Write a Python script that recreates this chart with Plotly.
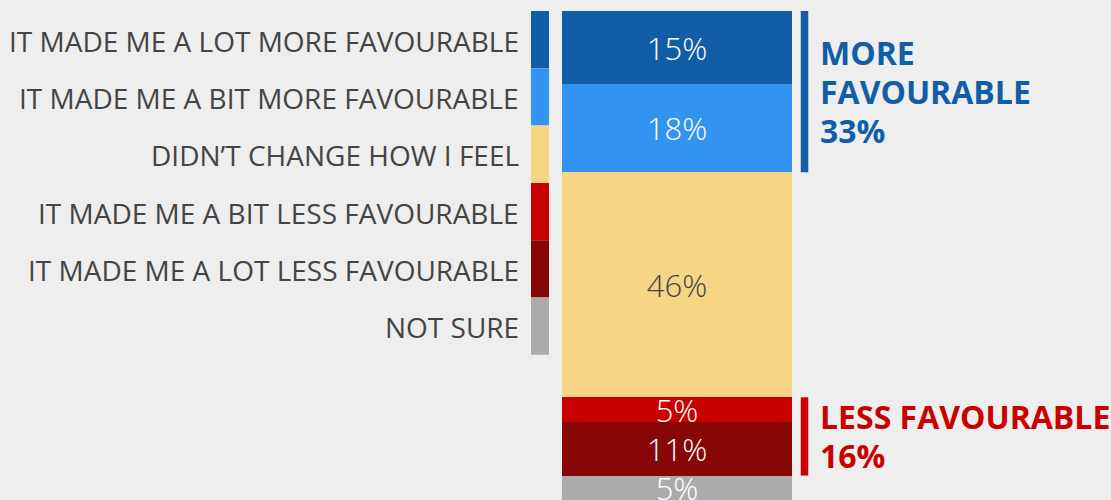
import plotly.graph_objects as go

W, H = 1111, 500
TOP = 11

labels = [
    "IT MADE ME A LOT MORE FAVOURABLE",
    "IT MADE ME A BIT MORE FAVOURABLE",
    "DIDN’T CHANGE HOW I FEEL",
    "IT MADE ME A BIT LESS FAVOURABLE",
    "IT MADE ME A LOT LESS FAVOURABLE",
    "NOT SURE",
]
values = [15, 18, 46, 5, 11, 5]
colors = ["#115DA8", "#3294F0", "#F6D684", "#C80000", "#870606", "#ABABAB"]
text_colors = ["white", "white", "#444444", "white", "white", "white"]

# (text lines, first index, last index, colour)
groups = [
    (["MORE", "FAVOURABLE", "33%"], 0, 1, "#115DA8"),
    (["LESS FAVOURABLE", "16%"], 3, 4, "#C80000"),
]

# pixel -> paper coords (plot area starts TOP px below the page top)
def px(x):
    return x / W

def py(y):
    return 1 - (y - TOP) / (H - TOP)

fig = go.Figure()

# stacked bar, one trace per answer
for lab, v, c, tc in zip(labels, values, colors, text_colors):
    fig.add_trace(go.Bar(
        x=[0], y=[v], name=lab, marker_color=c, marker_line_width=0,
        width=1, text=[f"{v}%"], textposition="inside",
        insidetextanchor="middle", constraintext="none",
        textfont=dict(family="Open Sans", size=31, color=tc, weight=300),
        hoverinfo="name+y", showlegend=False,
    ))

# custom legend: swatches on the right of right-aligned labels
sw_h = 57.3
shapes = []
annotations = []
for i, (lab, c) in enumerate(zip(labels, colors)):
    y0 = TOP + i * sw_h
    shapes.append(dict(type="rect", xref="paper", yref="paper",
                       x0=px(531), x1=px(549), y0=py(y0), y1=py(y0 + sw_h),
                       fillcolor=c, line_width=0))
    annotations.append(dict(text=lab, xref="paper", yref="paper",
                            x=px(521), y=py(y0 + sw_h / 2 + 1), xanchor="right",
                            yanchor="middle", showarrow=False,
                            font=dict(family="Open Sans", size=28, color="#444444")))

# brackets with group totals
cum = [sum(values[:i]) for i in range(len(values) + 1)]
line_gap = 39
for lines, a, b, c in groups:
    y0, y1 = cum[a], cum[b + 1]
    shapes.append(dict(type="line", xref="paper", yref="y",
                       x0=px(804.5), x1=px(804.5), y0=y0, y1=y1,
                       line=dict(color=c, width=7.5)))
    n = len(lines)
    for k, txt in enumerate(lines):
        annotations.append(dict(text=f"<b>{txt}</b>", xref="paper", yref="y",
                                x=px(818), y=(y0 + y1) / 2,
                                yshift=-(k - (n - 1) / 2) * line_gap,
                                xanchor="left", yanchor="middle", align="left",
                                showarrow=False,
                                font=dict(family="Open Sans", size=32, color=c)))

bar_px = 230
cx = 677
fig.update_layout(
    width=W, height=H, barmode="stack",
    margin=dict(l=0, r=0, t=TOP, b=0),
    paper_bgcolor="#EEEEEE", plot_bgcolor="#EEEEEE",
    xaxis=dict(range=[-cx / bar_px, (W - cx) / bar_px], visible=False, fixedrange=True),
    yaxis=dict(range=[100, 0], visible=False, fixedrange=True),
    shapes=shapes, annotations=annotations,
)

fig.write_html("out.html", config={"displayModeBar": False},
               post_script="document.body.style.margin='0';")
